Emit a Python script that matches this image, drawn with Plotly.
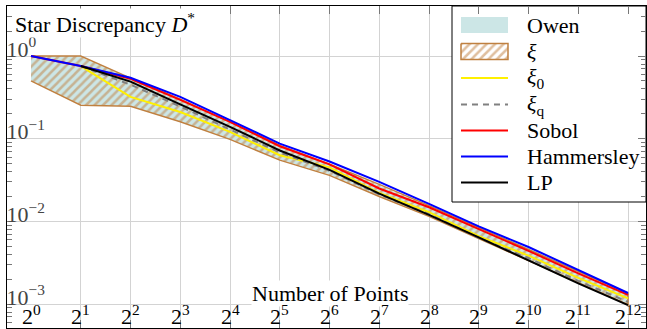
import math
import plotly.graph_objects as go

# ---------------- data ----------------
exponents = list(range(13))
n_points = [2 ** k for k in exponents]

owen_upper = [0.98, 0.97, 0.53, 0.29, 0.156, 0.081, 0.048, 0.0272, 0.0151, 0.0082, 0.0045, 0.00245, 0.00132]
owen_lower = [0.51, 0.26, 0.25, 0.163, 0.100, 0.056, 0.037, 0.0204, 0.0117, 0.0063, 0.00337, 0.00183, 0.00100]

xi_upper = [1.0, 1.0, 0.54, 0.30, 0.160, 0.083, 0.049, 0.028, 0.0155, 0.0084, 0.0046, 0.0025, 0.00135]
xi_lower = [0.50, 0.254, 0.247, 0.16, 0.098, 0.055, 0.036, 0.020, 0.0115, 0.0062, 0.0033, 0.0018, 0.00098]

xi0 = [0.756, 0.32, 0.21, 0.121, 0.063, 0.045, 0.022, 0.0129, 0.0066, 0.00385, 0.00207, 0.00117]
xiq = [0.756, 0.45, 0.245, 0.13, 0.068, 0.041, 0.0212, 0.0122, 0.0063, 0.0036, 0.0019, 0.00106]
sobol = [1.0, 0.756, 0.53, 0.295, 0.160, 0.081, 0.049, 0.0250, 0.0148, 0.0081, 0.0044, 0.00235, 0.00129]
hammersley = [1.0, 0.756, 0.545, 0.32, 0.168, 0.087, 0.053, 0.030, 0.0163, 0.0087, 0.0049, 0.0026, 0.00136]
lp = [0.756, 0.49, 0.26, 0.139, 0.072, 0.042, 0.0216, 0.012, 0.0064, 0.0034, 0.00178, 0.00097]

series_names = ["Owen", "<i>\u03be</i>", "<i>\u03be</i><sub>0</sub>", "<i>\u03be</i><sub>q</sub>",
                "Sobol", "Hammersley", "LP"]

x_tick_text = [f"2<sup>{k}</sup>" for k in exponents]
y_tick_vals = [1e-3, 1e-2, 1e-1, 1.0]
y_tick_text = ["10<sup>\u22123</sup>", "10<sup>\u22122</sup>", "10<sup>\u22121</sup>", "10<sup>0</sup>"]
y_minor_vals = [m * 10.0 ** e for e in (-4, -3, -2, -1, 0) for m in range(2, 10)]

# ---------------- style ----------------
FONT = "Liberation Serif"
FS = 22
BROWN = "rgb(191,128,64)"
TEAL = "rgb(204,230,230)"
GRID = "rgb(211,211,211)"
TICK = "rgb(120,120,120)"
YELLOW = "rgb(255,240,0)"
GRAY = "rgb(128,128,128)"
RED = "rgb(255,0,0)"
BLUE = "rgb(0,0,255)"
HATCH = dict(shape="/", fgcolor=BROWN, bgcolor="rgba(0,0,0,0)", size=6, solidity=0.42)

line_styles = {
    2: dict(color=YELLOW, width=2),
    3: dict(color=GRAY, width=2, dash="6px,5px"),
    4: dict(color=RED, width=2),
    5: dict(color=BLUE, width=2),
    6: dict(color="black", width=2),
}

fig = go.Figure()

# Owen band
fig.add_trace(go.Scatter(
    x=n_points + n_points[::-1], y=owen_upper + owen_lower[::-1],
    fill="toself", fillcolor=TEAL, line=dict(width=0), mode="lines",
    name=series_names[0], hoverinfo="skip"))

# xi band (hatched)
fig.add_trace(go.Scatter(
    x=n_points + n_points[::-1], y=xi_upper + xi_lower[::-1],
    fill="toself", fillcolor="rgba(0,0,0,0)", fillpattern=HATCH,
    line=dict(color=BROWN, width=1.5), mode="lines",
    name=series_names[1], hoverinfo="skip"))

fig.add_trace(go.Scatter(x=n_points[1:], y=xi0, mode="lines", line=line_styles[2], name=series_names[2]))
fig.add_trace(go.Scatter(x=n_points[1:], y=xiq, mode="lines", line=line_styles[3], name=series_names[3]))
fig.add_trace(go.Scatter(x=n_points, y=sobol, mode="lines", line=line_styles[4], name=series_names[4]))
fig.add_trace(go.Scatter(x=n_points, y=hammersley, mode="lines", line=line_styles[5], name=series_names[5]))
fig.add_trace(go.Scatter(x=n_points[1:], y=lp, mode="lines", line=line_styles[6], name=series_names[6]))

# ---------------- legend (drawn on a hidden pixel-space overlay axis) ----------------
PX_L, PX_R, PX_T, PX_B = 7, 646, 6, 328
LEG_X0, LEG_X1, LEG_Y0, LEG_Y1 = 452, 646, 6, 202
SYM_X0, SYM_X1, TXT_X = 461, 508, 525
ROW_Y = [25, 51.5, 78, 104.5, 130.5, 156.5, 182.5]


def rect_xy(x0, x1, y0, y1):
    return [x0, x1, x1, x0, x0], [y0, y0, y1, y1, y0]


bx, by = rect_xy(LEG_X0, LEG_X1, LEG_Y0, LEG_Y1)
fig.add_trace(go.Scatter(x=bx, y=by, xaxis="x2", yaxis="y2", mode="lines", fill="toself",
                         fillcolor="white", line=dict(color="black", width=1),
                         showlegend=False, hoverinfo="skip"))
ox, oy = rect_xy(SYM_X0, SYM_X1, ROW_Y[0] - 8, ROW_Y[0] + 8)
fig.add_trace(go.Scatter(x=ox, y=oy, xaxis="x2", yaxis="y2", mode="lines", fill="toself",
                         fillcolor=TEAL, line=dict(width=0), showlegend=False, hoverinfo="skip"))
hx, hy = rect_xy(SYM_X0, SYM_X1, ROW_Y[1] - 8, ROW_Y[1] + 8)
fig.add_trace(go.Scatter(x=hx, y=hy, xaxis="x2", yaxis="y2", mode="lines", fill="toself",
                         fillcolor="rgba(0,0,0,0)", fillpattern=HATCH,
                         line=dict(color=BROWN, width=1.5), showlegend=False, hoverinfo="skip"))
for i in range(2, 7):
    fig.add_trace(go.Scatter(x=[SYM_X0, SYM_X1], y=[ROW_Y[i], ROW_Y[i]], xaxis="x2", yaxis="y2",
                             mode="lines", line=line_styles[i], showlegend=False, hoverinfo="skip"))

annotations = [
    dict(text="Star Discrepancy <i>D</i><sup>*</sup>", xref="x2", yref="y2",
         x=14, y=8, xanchor="left", yanchor="top", showarrow=False,
         bgcolor="white", borderpad=0, font=dict(family=FONT, size=FS)),
    dict(text="Number of Points", xref="x2", yref="y2",
         x=330, y=293, xanchor="center", yanchor="middle", showarrow=False,
         bgcolor="white", borderpad=0, font=dict(family=FONT, size=FS)),
]
annotations += [
    dict(text=series_names[i], xref="x2", yref="y2", x=TXT_X, y=ROW_Y[i], xanchor="left",
         yanchor="middle", showarrow=False, font=dict(family=FONT, size=FS, color="black"))
    for i in range(7)
]
# x tick labels, placed at the tick values of the (log) x axis, inside the frame
annotations += [
    dict(text=t, xref="x", yref="paper", x=math.log10(n), y=0, xanchor="center",
         yanchor="bottom", yshift=-3, showarrow=False, font=dict(family=FONT, size=FS))
    for n, t in zip(n_points, x_tick_text)
]

fig.update_layout(
    width=647, height=329,
    margin=dict(l=PX_L, r=647 - PX_R, t=PX_T, b=329 - PX_B),
    paper_bgcolor="white", plot_bgcolor="white",
    font=dict(family=FONT, size=FS, color="black"),
    showlegend=False,
    annotations=annotations,
    xaxis2=dict(overlaying="x", range=[PX_L, PX_R], visible=False, fixedrange=True),
    yaxis2=dict(overlaying="y", range=[PX_B, PX_T], visible=False, fixedrange=True),
)

x_lo = math.log10(2 ** ((PX_L - 31) / 49.75))
x_hi = math.log10(2 ** ((PX_R - 31) / 49.75))
fig.update_layout(xaxis=dict(
    type="log", range=[x_lo, x_hi], tickmode="array", tickvals=n_points,
    ticktext=x_tick_text, showticklabels=False, ticks="inside", ticklen=8, tickcolor=TICK,
    showgrid=True, gridcolor=GRID, gridwidth=1,
    showline=True, linecolor="black", linewidth=1, mirror="ticks", zeroline=False))
fig.update_layout(yaxis=dict(
    type="log", range=[-3.29, 0.605], tickmode="array", tickvals=y_tick_vals,
    ticktext=y_tick_text, ticks="inside", ticklen=8, tickcolor=TICK,
    ticklabelposition="inside", ticklabelshift=-7, ticklabelstandoff=-7,
    minor=dict(tickmode="array", tickvals=y_minor_vals, ticks="inside", ticklen=5,
               tickcolor=TICK, showgrid=False),
    showgrid=True, gridcolor=GRID, gridwidth=1,
    showline=True, linecolor="black", linewidth=1, mirror="ticks", zeroline=False,
    tickfont=dict(family=FONT, size=FS)))

fig.write_html("out.html", config={"displayModeBar": False},
               post_script="document.body.style.margin='0';")
